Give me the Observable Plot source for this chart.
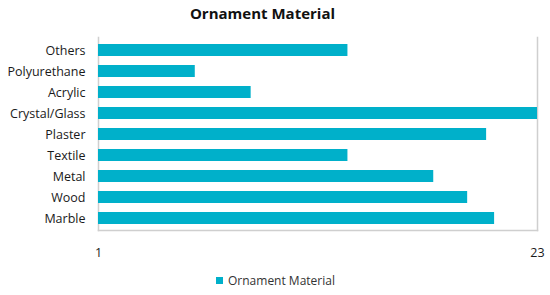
<!DOCTYPE html>
<html>
<head>
<meta charset="utf-8">
<script src="https://cdn.jsdelivr.net/npm/d3@7"></script>
<script src="https://cdn.jsdelivr.net/npm/@observablehq/plot@0.6"></script>
<style>
  body { margin: 0; background: #fff; font-family: "Open Sans", sans-serif; }
  #wrap { width: 550px; height: 295px; position: relative; overflow: hidden; }
  #title { position: absolute; left: 0; top: 3px; width: 525px; text-align: center; font-weight: bold; font-size: 15px; color: #111; }
  #chart { position: absolute; left: 0; top: 30px; line-height: 0; }
  #legend { position: absolute; left: 216px; top: 272px; font-size: 12px; color: #333; display: flex; align-items: center; }
  #legend .sw { width: 7px; height: 7px; background: #00b0ca; margin-right: 5px; }
</style>
</head>
<body>
<div id="wrap">
  <div id="title">Ornament Material</div>
  <div id="chart"></div>
  <div id="legend"><span class="sw"></span><span>Ornament Material</span></div>
</div>
<script>
const categories = ["Others", "Polyurethane", "Acrylic", "Crystal/Glass", "Plaster", "Textile", "Metal", "Wood", "Marble"];
const values = [13.5, 5.85, 8.65, 23, 20.45, 13.5, 17.8, 19.5, 20.85];
const xTicks = [1, 23];
const axisMin = 1;

const data = categories.map((c, i) => ({ name: c, value: values[i] }));

const chart = Plot.plot({
  width: 550,
  height: 235,
  marginLeft: 98,
  marginRight: 13,
  marginTop: 7,
  marginBottom: 35,
  style: { fontFamily: "Open Sans, sans-serif", fontSize: "12.5px", color: "#1a1a1a", background: "transparent" },
  x: { domain: [axisMin, 23], ticks: xTicks, tickSize: 0, tickPadding: 18, label: null, tickFormat: d => String(d) },
  y: { domain: categories, paddingInner: 0.44, paddingOuter: 0.21, tickSize: 0, tickPadding: 13, label: null },
  marks: [
    Plot.frame({ anchor: "left", stroke: "#cfcfcf", strokeWidth: 1.5 }),
    Plot.frame({ anchor: "right", stroke: "#cfcfcf", strokeWidth: 1.5 }),
    Plot.frame({ anchor: "bottom", stroke: "#cfcfcf", strokeWidth: 1.5 }),
    Plot.barX(data, { x1: () => axisMin, x2: "value", y: "name", fill: "#00b0ca" })
  ]
});
document.getElementById("chart").appendChild(chart);
</script>
</body>
</html>
